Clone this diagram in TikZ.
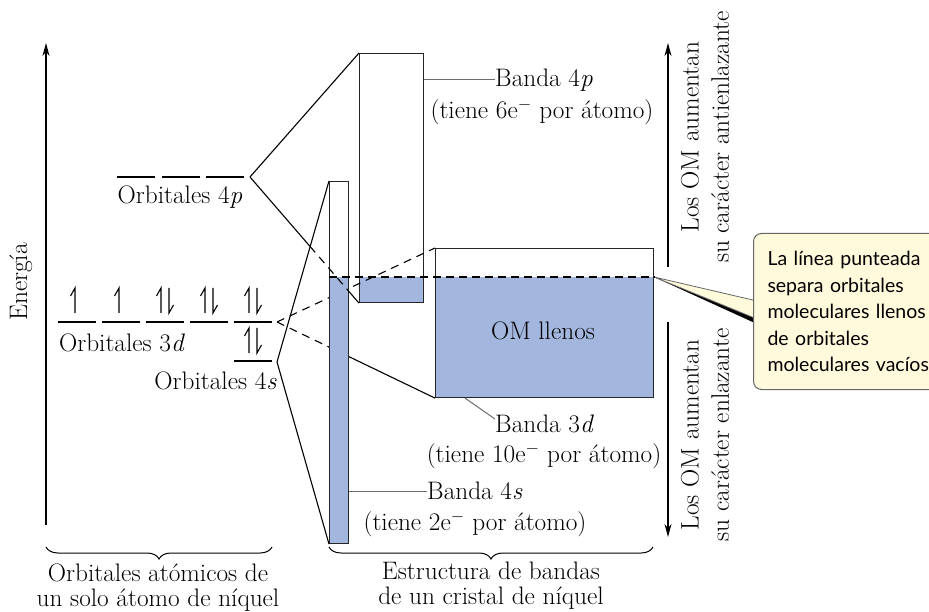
\documentclass[tikz,border=0pt]{standalone}
\usepackage{fontspec}
\newfontfamily\notefont{Lato}
\usetikzlibrary{arrows.meta, positioning, calc, decorations.pathreplacing, backgrounds}
\definecolor{bandblue}{RGB}{162,182,222}
\definecolor{notecream}{RGB}{255,250,219}
\definecolor{leadgray}{RGB}{110,110,110}
\newcommand{\bigtext}{\fontsize{25.3}{27}\selectfont}
\newcommand{\notetext}{\notefont\fontsize{19.5}{26.5}\selectfont}
\tikzset{
  level/.style    = {line width=2.6pt},
  band/.style     = {draw=black!85, fill=white, line width=1.1pt, inner sep=0pt,
                     anchor=north west},
  fillband/.style = {path picture={\fill[bandblue] (path picture bounding box.south west)
                     rectangle (path picture bounding box.east |- fermi);}},
  tie/.style      = {line width=1.1pt},
  tiedash/.style  = {tie, dash pattern=on 8pt off 6pt},
  leader/.style   = {draw=leadgray, line width=1pt},
  lbl/.style      = {font=\bigtext, inner sep=0pt},
  spin/.style     = {line width=1.1pt},
  axis/.style     = {-{Stealth[length=13pt, width=7pt]}, line width=1.1pt},
  brace/.style    = {decorate, decoration={brace, mirror, amplitude=12pt}, line width=1pt},
  notebox/.style  = {draw=black!60, fill=notecream, rounded corners=8pt, line width=1pt,
                     font=\notetext, text width=190pt, align=left, inner xsep=14pt,
                     minimum height=156pt, anchor=north west},
}

\begin{document}
\begin{tikzpicture}[x=1pt, y=-1pt]
  \useasboundingbox (0,0) rectangle (929,612);
  \clip (0,0) rectangle (929,612);
  \coordinate (fermi) at (0,277);

  % energy axis
  \coordinate (ebot) at (46,525);
  \coordinate (etop) at (46,43);
  \draw[axis] (ebot) -- (etop);
  \node[lbl, rotate=90] (energy) at (21,282) {Energía};

  % atomic levels of one Ni atom
  \foreach \x in {117,162,206} \draw[level] (\x,177) -- ++(38,0);
  \foreach \x in {58,102,146,190,234} \draw[level] (\x,322) -- ++(38,0);
  \draw[level] (234,361) -- ++(38,0);
  \foreach \c in {77,121} {
    \draw[spin] ({\c-2},313) -- ({\c-2},288) -- ++(-4.5,8);
  }
  \foreach \c/\y in {165/288, 209/288, 253/288, 253/328} {
    \draw[spin] ({\c-4},{\y+25}) -- ({\c-4},\y) -- ++(-4.5,8);
    \draw[spin] ({\c+4},\y) -- ({\c+4},{\y+25}) -- ++(4.5,-8);
  }
  \node[lbl] (o4p) at (180,197) {Orbitales 4\textit{p}};
  \node[lbl] (o3d) at (122,343) {Orbitales 3\textit{d}};
  \node[lbl, anchor=east] (o4s) at (277,381) {Orbitales 4\textit{s}};

  \coordinate (p4) at (250,177);
  \coordinate (d3) at (277,322);
  \coordinate (s4) at (277,362);

  % bands of the crystal
  \node[band, fillband, minimum width=64pt, minimum height=249pt] (bp) at (359,53) {};
  \node[band, fillband, minimum width=218pt, minimum height=149pt] (bd) at (435,248) {};
  \draw[tiedash] (d3) -- (bd.north west);
  \draw[tiedash] (d3) -- ($(d3)!0.45!(bd.south west)$);
  \draw[tie] ($(d3)!0.45!(bd.south west)$) -- (bd.south west);
  \node[band, fillband, minimum width=19pt, minimum height=362pt] (bs) at (329,181) {};
  \draw[tie] (p4) -- (bp.north west);
  \draw[tie] (p4) -- ($(p4)!0.55!(bp.south west)$);
  \draw[tiedash] ($(p4)!0.55!(bp.south west)$) -- ($(p4)!0.91!(bp.south west)$);
  \draw[tie] ($(p4)!0.91!(bp.south west)$) -- (bp.south west);
  \draw[tie] (s4) -- (bs.north west);
  \draw[tie] (s4) -- (bs.south west);
  \draw[line width=1.1pt, dash pattern=on 8pt off 5pt] (bs.west |- fermi) -- (bd.east |- fermi);
  \node[lbl] (full) at (543,331) {OM llenos};

  % band labels
  \node[lbl, anchor=west] (l4p) at (495,80) {Banda 4\textit{p}};
  \node[lbl] (n4p) at (542,112) {(tiene 6e$^-$ por átomo)};
  \draw[leader] (bp.east |- l4p.west) -- (l4p.west);
  \node[lbl, anchor=west] (l3d) at (495,424) {Banda 3\textit{d}};
  \node[lbl] (n3d) at (544,456) {(tiene 10e$^-$ por átomo)};
  \draw[leader] ($(bd.south west)+(30,0)$) -- ([yshift=5pt]l3d.west);
  \node[lbl, anchor=west] (l4s) at (427,491) {Banda 4\textit{s}};
  \node[lbl] (n4s) at (475,524) {(tiene 2e$^-$ por átomo)};
  \draw[leader] (bs.east |- l4s.west) -- (l4s.west);

  % bonding / antibonding arrows
  \coordinate (aup0) at (668,267);
  \coordinate (aup1) at (668,43);
  \coordinate (adn0) at (668,322);
  \coordinate (adn1) at (668,537);
  \draw[axis] (aup0) -- (aup1);
  \draw[axis] (adn0) -- (adn1);
  \node[lbl, rotate=90, align=center, font=\fontsize{25.3}{30}\selectfont] (anti) at (705,137)
    {Los OM aumentan\\su carácter antienlazante};
  \node[lbl, rotate=90, align=center, font=\fontsize{25.3}{30}\selectfont] (bond) at (705,435)
    {Los OM aumentan\\su carácter enlazante};

  % callout
  \coordinate (tip) at (bd.east |- fermi);
  \node[notebox] (note) at (753,233)
    {La línea punteada\\separa orbitales\\moleculares llenos\\de orbitales\\moleculares vacíos};
  \begin{scope}[on background layer]
    \fill[black] (tip) -- ($(note.north west)+(4,84)$) -- ($(note.north west)+(4,91)$) -- cycle;
    \filldraw[fill=notecream, draw=black!60, line width=0.8pt]
      ($(note.north west)+(4,68)$) -- (tip) -- ($(note.north west)+(4,86)$);
  \end{scope}

  % braces
  \coordinate (bl0) at (46,547);
  \coordinate (bl1) at (272,547);
  \coordinate (br0) at (329,547);
  \coordinate (br1) at (653,547);
  \draw[brace] (bl0) -- (bl1);
  \draw[brace] (br0) -- (br1);
  \node[lbl, align=center, font=\fontsize{25.3}{25}\selectfont] (atomcap) at (158,588)
    {Orbitales atómicos de\\un solo átomo de níquel};
  \node[lbl, align=center, font=\fontsize{25.3}{25}\selectfont] (bandcap) at (491,586)
    {Estructura de bandas\\de un cristal de níquel};
\end{tikzpicture}
\end{document}
